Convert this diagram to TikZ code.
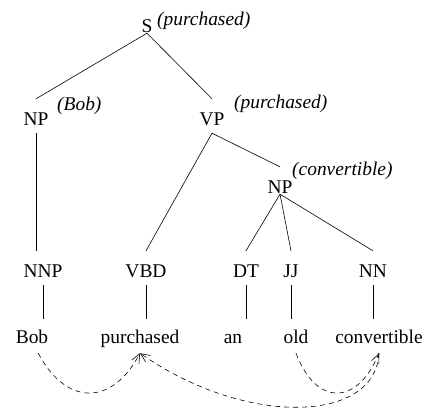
\documentclass[tikz,border=0pt]{standalone}
\usepackage{fontspec}
\setmainfont{Liberation Serif}
\usetikzlibrary{arrows.meta}

\begin{document}
\begin{tikzpicture}[x = 1bp, y = -1bp,
        font = \fontsize{19.5}{23}\selectfont,
        cat/.style = {inner sep = 0, anchor = base, text height = 26bp, text depth = 8bp},
        word/.style = {inner sep = 0, anchor = base, text height = 24bp, text depth = 10bp},
        note/.style = {inner sep = 0, anchor = base west, font = \fontsize{19.5}{23}\selectfont\itshape},
        branch/.style = {line width = 0.6pt},
        dep/.style = {line width = 0.6pt, dash pattern = on 5bp off 4bp, -{Straight Barb[length = 9bp, width = 8bp]}}]

        \useasboundingbox (0, 0) rectangle (427, 410);

        % phrases
        \node[cat, text depth = 1bp] (S) at (147, 32) {S};
        \node[cat] (NPb) at (36, 125) {NP};
        \node[cat] (VP) at (212, 125) {VP};
        \node[cat, text depth = 1bp] (NPc) at (280, 193) {NP};

        % heads
        \node[note] (hS) at (157, 25) {(purchased)};
        \node[note] (hNPb) at (57, 110) {(Bob)};
        \node[note] (hVP) at (234, 108) {(purchased)};
        \node[note] (hNPc) at (292, 175) {(convertible)};

        % tags
        \node[cat] (NNP) at (43, 277) {NNP};
        \node[cat] (VBD) at (146, 277) {VBD};
        \node[cat] (DT) at (246, 277) {DT};
        \node[cat] (JJ) at (291, 277) {JJ};
        \node[cat] (NN) at (373, 277) {NN};

        % words
        \node[word] (Bob) at (32, 343) {Bob};
        \node[word] (purchased) at (140, 343) {purchased};
        \node[word] (an) at (233, 343) {an};
        \node[word] (old) at (296, 343) {old};
        \node[word] (conv) at (379, 343) {convertible};

        \draw[branch] (S.south) -- (NPb.north);
        \draw[branch] (S.south) -- (VP.north);
        \draw[branch] (NPb.south) -- (NPb.south |- NNP.north);
        \draw[branch] (VP.south) -- (VBD.north);
        \draw[branch] (VP.south) -- (NPc.north);

        \foreach \t in {DT, JJ, NN} {
            \draw[branch] (NPc.south) -- (\t.north);
        }

        \foreach \t/\w in {NNP/Bob, VBD/purchased, DT/an, JJ/old, NN/conv} {
            \draw[branch] (\t.south) -- (\t.south |- \w.north);
        }

        % dependencies
        \draw[dep] (Bob.-70) .. controls +(28, 53) and +(-28, 53) .. (purchased.south);
        \draw[dep] (old.south) .. controls +(20, 53) and +(-22, 53) .. (conv.south);
        \draw[dep] (conv.south) .. controls +(-3, 69) and +(108, 75) .. (purchased.south);

    \end{tikzpicture}
\end{document}
